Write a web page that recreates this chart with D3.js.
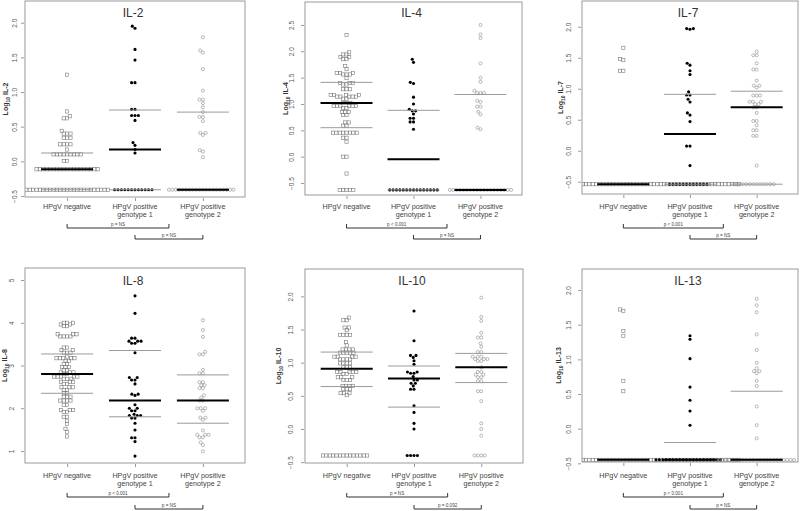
<!DOCTYPE html>
<html><head><meta charset="utf-8">
<script src="https://cdn.jsdelivr.net/npm/d3@7"></script>
<style>body{margin:0;background:#fff}svg{display:block}</style>
</head><body>
<svg id="chart" width="800" height="511"></svg>
<script>
// ---------- DATA (value, number of subjects at that value) ----------
const groupNames = ["HPgV negative", "HPgV positive genotype 1", "HPgV positive genotype 2"];
const groupLabelLines = [["HPgV negative"], ["HPgV positive", "genotype 1"], ["HPgV positive", "genotype 2"]];
const panelTitles = ["IL-2", "IL-4", "IL-7", "IL-8", "IL-10", "IL-13"];

// IL-2
const il2Negative = [[1.25,1],[0.72,1],[0.65,1],[0.62,2],[0.44,1],[0.40,3],[0.34,3],[0.245,4],[0.17,1],[0.10,9],[0.005,2],[-0.115,19],[-0.41,26]];
const il2Genotype1 = [[1.95,1],[1.92,1],[1.615,1],[1.46,1],[1.135,2],[0.75,2],[0.66,3],[0.59,1],[0.27,1],[0.23,1],[0.17,1],[0.12,1],[-0.41,12]];
const il2Genotype2 = [[1.79,1],[1.60,1],[1.57,1],[1.33,1],[1.02,1],[0.89,2],[0.84,1],[0.78,1],[0.71,1],[0.64,2],[0.58,1],[0.41,2],[0.38,1],[0.16,1],[0.14,1],[0.06,1],[-0.41,20]];
const il2Q1 = [-0.41, -0.41, -0.41];
const il2Median = [-0.115, 0.17, -0.41];
const il2Q3 = [0.12, 0.74, 0.71];
const il2Ticks = [-0.5, 0, 0.5, 1, 1.5, 2];
const il2P = ["p = NS", "p = NS"];

// IL-4
const il4Negative = [[2.31,1],[1.98,1],[1.94,2],[1.89,2],[1.85,2],[1.72,1],[1.66,1],[1.59,3],[1.56,3],[1.49,1],[1.40,3],[1.37,2],[1.28,3],[1.17,4],[1.14,5],[1.10,2],[1.02,3],[0.96,6],[0.92,2],[0.85,3],[0.79,2],[0.65,2],[0.59,2],[0.456,8],[0.36,2],[0.285,1],[0.0,2],[-0.32,1],[-0.63,5]];
const il4Genotype1 = [[1.85,1],[1.79,1],[1.41,1],[1.39,1],[1.13,1],[1.0,1],[0.90,1],[0.87,2],[0.81,1],[0.73,2],[0.66,2],[0.52,1],[-0.63,15]];
const il4Genotype2 = [[2.50,1],[2.32,1],[2.25,1],[1.77,1],[1.50,1],[1.42,1],[1.25,1],[1.21,3],[1.06,1],[1.04,1],[0.95,2],[0.85,1],[0.80,1],[0.55,1],[0.52,1],[-0.63,19]];
const il4Q1 = [0.55, -0.63, -0.63];
const il4Median = [1.02, -0.05, -0.63];
const il4Q3 = [1.41, 0.88, 1.18];
const il4Ticks = [-0.5, 0, 0.5, 1, 1.5, 2, 2.5];
const il4P = ["p < 0.001", "p = NS"];

// IL-7
const il7Negative = [[1.66,1],[1.48,1],[1.46,1],[1.29,2],[-0.54,70]];
const il7Genotype1 = [[1.97,2],[1.96,1],[1.41,1],[1.38,1],[1.29,1],[1.23,1],[0.95,1],[0.90,2],[0.83,1],[0.785,1],[0.61,1],[0.575,1],[0.47,1],[0.075,2],[-0.24,1],[-0.54,12]];
const il7Genotype2 = [[1.60,1],[1.54,2],[1.41,1],[1.31,2],[1.13,1],[1.05,2],[1.02,1],[0.89,3],[0.79,3],[0.75,2],[0.70,2],[0.61,1],[0.48,2],[0.41,1],[0.33,2],[0.24,2],[-0.24,1],[-0.54,12]];
const il7Q1 = [-0.54, -0.54, -0.54];
const il7Median = [-0.54, 0.27, 0.70];
const il7Q3 = [-0.54, 0.91, 0.96];
const il7Ticks = [-0.5, 0, 0.5, 1, 1.5, 2];
const il7P = ["p < 0.001", "p = NS"];

// IL-8
const il8Negative = [[4.0,3],[3.96,2],[3.92,2],[3.73,3],[3.68,4],[3.42,2],[3.36,2],[3.30,3],[3.21,1],[3.17,5],[3.11,2],[3.04,2],[2.96,3],[2.89,2],[2.84,3],[2.80,2],[2.74,5],[2.69,3],[2.62,3],[2.57,2],[2.49,3],[2.43,2],[2.35,2],[2.27,3],[2.18,4],[2.08,2],[1.96,3],[1.91,2],[1.80,2],[1.71,1],[1.63,1],[1.52,1],[1.45,1],[1.34,1]];
const il8Genotype1 = [[4.63,1],[4.22,1],[3.64,2],[3.57,3],[3.52,2],[3.30,1],[2.72,2],[2.66,2],[2.57,1],[2.33,2],[2.30,1],[2.08,1],[2.0,2],[1.94,2],[1.86,1],[1.83,3],[1.77,2],[1.65,1],[1.49,1],[1.31,2],[1.22,1],[0.88,1]];
const il8Genotype2 = [[4.06,1],[3.83,1],[3.67,1],[3.32,1],[3.26,2],[2.90,1],[2.82,2],[2.61,2],[2.54,2],[2.47,2],[2.30,1],[2.25,1],[2.18,2],[2.0,3],[1.94,1],[1.78,2],[1.73,1],[1.48,1],[1.38,3],[1.32,2],[1.20,1],[1.14,1],[0.99,1]];
const il8Q1 = [2.35, 1.80, 1.65];
const il8Median = [2.80, 2.18, 2.18];
const il8Q3 = [3.27, 3.35, 2.78];
const il8Ticks = [1, 2, 3, 4, 5];
const il8P = ["p < 0.001", "p = NS"];

// IL-10
const il10Negative = [[1.68,1],[1.64,2],[1.53,2],[1.49,1],[1.42,4],[1.31,1],[1.26,1],[1.20,4],[1.15,5],[1.09,4],[1.05,4],[0.99,4],[0.93,3],[0.86,5],[0.83,2],[0.78,3],[0.74,3],[0.65,4],[0.60,3],[0.54,3],[0.51,1],[-0.40,14]];
const il10Genotype1 = [[1.78,1],[1.33,1],[1.11,2],[1.08,1],[1.03,1],[0.975,1],[0.86,2],[0.84,2],[0.79,1],[0.74,2],[0.69,2],[0.65,1],[0.60,2],[0.35,1],[0.25,1],[0.085,1],[0.0,1],[-0.40,4]];
const il10Genotype2 = [[1.98,1],[1.69,1],[1.63,1],[1.45,1],[1.38,2],[1.29,1],[1.24,1],[1.16,2],[1.09,3],[1.055,3],[1.025,2],[0.93,1],[0.86,2],[0.82,2],[0.78,2],[0.72,2],[0.57,2],[0.42,1],[0.085,1],[0.0,1],[-0.10,1],[-0.40,4]];
const il10Q1 = [0.64, 0.33, 0.70];
const il10Median = [0.91, 0.76, 0.93];
const il10Q3 = [1.16, 0.95, 1.14];
const il10Ticks = [-0.5, 0, 0.5, 1, 1.5, 2];
const il10P = ["p = NS", "p = 0.092"];

// IL-13
const il13Negative = [[1.72,1],[1.70,1],[1.41,1],[1.34,1],[0.69,1],[0.54,1],[-0.45,70]];
const il13Genotype1 = [[1.34,1],[1.29,1],[1.01,1],[0.60,1],[0.41,1],[0.255,1],[0.05,1],[-0.45,20]];
const il13Genotype2 = [[1.875,1],[1.78,1],[1.68,1],[1.36,1],[1.135,1],[0.95,1],[0.87,1],[0.83,2],[0.80,1],[0.69,1],[0.615,1],[0.32,1],[0.05,1],[-0.14,1],[-0.45,24]];
const il13Q1 = [-0.45, -0.45, -0.45];
const il13Median = [-0.45, -0.45, -0.45];
const il13Q3 = [-0.45, -0.20, 0.54];
const il13Ticks = [-0.5, 0, 0.5, 1, 1.5, 2];
const il13P = ["p < 0.001", "p = NS"];

// ---------- LAYOUT ----------
const panels = [
  {title: panelTitles[0], groups: [il2Negative, il2Genotype1, il2Genotype2], q1: il2Q1, med: il2Median, q3: il2Q3, ticks: il2Ticks, p: il2P,
   box: [25, 1, 245, 197], dom: [-0.515, 2.313], tickX: 17, labX: 6, titleY: 17, xlabY: 209, brY: [228, 239], fmt: ".1f"},
  {title: panelTitles[1], groups: [il4Negative, il4Genotype1, il4Genotype2], q1: il4Q1, med: il4Median, q3: il4Q3, ticks: il4Ticks, p: il4P,
   box: [305, 2, 522, 195], dom: [-0.727, 2.935], tickX: 294, labX: 286, titleY: 17, xlabY: 209, brY: [228, 239], fmt: ".1f"},
  {title: panelTitles[2], groups: [il7Negative, il7Genotype1, il7Genotype2], q1: il7Q1, med: il7Median, q3: il7Q3, ticks: il7Ticks, p: il7P,
   box: [582, 1, 798, 194], dom: [-0.698, 2.415], tickX: 571, labX: 561, titleY: 17, xlabY: 209, brY: [228, 239], fmt: ".1f"},
  {title: panelTitles[3], groups: [il8Negative, il8Genotype1, il8Genotype2], q1: il8Q1, med: il8Median, q3: il8Q3, ticks: il8Ticks, p: il8P,
   box: [25, 268, 245, 463], dom: [0.719, 5.281], tickX: 14, labX: 5, titleY: 285, xlabY: 478, brY: [497, 509], fmt: "d"},
  {title: panelTitles[4], groups: [il10Negative, il10Genotype1, il10Genotype2], q1: il10Q1, med: il10Median, q3: il10Q3, ticks: il10Ticks, p: il10P,
   box: [305, 269, 523, 463], dom: [-0.513, 2.413], tickX: 293, labX: 279, titleY: 285, xlabY: 478, brY: [497, 509], fmt: ".1f"},
  {title: panelTitles[5], groups: [il13Negative, il13Genotype1, il13Genotype2], q1: il13Q1, med: il13Median, q3: il13Q3, ticks: il13Ticks, p: il13P,
   box: [582, 269, 798, 462], dom: [-0.481, 2.304], tickX: 571, labX: 559, titleY: 285, xlabY: 478, brY: [497, 509], fmt: ".1f"}
];

const svg = d3.select("#chart");
const FONT = "'Liberation Sans', Arial, sans-serif";
const D = 3.4;       // swarm spacing
const HALF = 26;     // half width of summary lines

function swarm(pys) {
  const placed = [];
  for (const y of pys) {
    const cands = [0];
    for (const p of placed) {
      const dy = Math.abs(p.y - y);
      if (dy < D) { const dx = Math.sqrt(D * D - dy * dy); cands.push(p.x + dx, p.x - dx); }
    }
    cands.sort((a, b) => Math.abs(a) - Math.abs(b) || a - b);
    let best = 0;
    for (const c of cands) {
      if (placed.every(p => (p.x - c) ** 2 + (p.y - y) ** 2 >= D * D - 1e-6)) { best = c; break; }
    }
    placed.push({x: best, y});
  }
  return placed;
}

panels.forEach((P, pi) => {
  const [x0, y0, x1, y1] = P.box;
  const g = svg.append("g");
  const x = d3.scalePoint().domain(groupNames).range([x0, x1]).padding(0.62);
  const y = d3.scaleLinear().domain(P.dom).range([y1, y0]);
  const clipId = "clip" + pi;
  svg.append("clipPath").attr("id", clipId).append("rect")
    .attr("x", x0).attr("y", y0).attr("width", x1 - x0).attr("height", y1 - y0);

  // y axis (ticks + rotated labels)
  const yAxis = d3.axisLeft(y).tickValues(P.ticks).tickSize(3).tickFormat(d3.format(P.fmt));
  const ya = g.append("g").attr("transform", `translate(${x0 - 1},0)`).call(yAxis);
  ya.select(".domain").remove();
  ya.selectAll(".tick line").attr("stroke", "#999");
  ya.selectAll(".tick text").attr("x", null).attr("dy", null)
    .attr("transform", d => `translate(${P.tickX - x0 + 1},${y(d) - y(d)}) rotate(-90)`)
    .attr("text-anchor", "middle").attr("fill", "#555")
    .style("font", `6.5px ${FONT}`);
  // x axis ticks
  const xa = g.append("g").attr("transform", `translate(0,${y1 + 1})`)
    .call(d3.axisBottom(x).tickSize(3).tickFormat(""));
  xa.select(".domain").remove();
  xa.selectAll(".tick line").attr("stroke", "#999");

  // points
  const pg = g.append("g").attr("clip-path", `url(#${clipId})`);
  P.groups.forEach((grp, gi) => {
    const vals = [];
    grp.forEach(([v, n]) => { for (let k = 0; k < n; k++) vals.push(v); });
    vals.sort((a, b) => a - b);
    const pts = swarm(vals.map(v => y(v)));
    const cx = x(groupNames[gi]);
    if (gi === 0) {
      pg.selectAll(null).data(pts).enter().append("rect")
        .attr("x", d => cx + d.x - 1.6).attr("y", d => d.y - 1.6)
        .attr("width", 3.2).attr("height", 3.2)
        .attr("fill", "none").attr("stroke", "#7a7a7a").attr("stroke-width", 0.6);
    } else if (gi === 1) {
      pg.selectAll(null).data(pts).enter().append("circle")
        .attr("cx", d => cx + d.x).attr("cy", d => d.y).attr("r", 1.55)
        .attr("fill", "#000");
    } else {
      pg.selectAll(null).data(pts).enter().append("circle")
        .attr("cx", d => cx + d.x).attr("cy", d => d.y).attr("r", 1.55)
        .attr("fill", "none").attr("stroke", "#8c8c8c").attr("stroke-width", 0.6);
    }
  });

  // summary lines
  groupNames.forEach((gn, gi) => {
    const cx = x(gn);
    [P.q1[gi], P.q3[gi]].forEach(v => {
      pg.append("line").attr("x1", cx - HALF).attr("x2", cx + HALF)
        .attr("y1", y(v)).attr("y2", y(v)).attr("stroke", "#9a9a9a").attr("stroke-width", 1);
    });
    pg.append("line").attr("x1", cx - HALF).attr("x2", cx + HALF)
      .attr("y1", y(P.med[gi])).attr("y2", y(P.med[gi])).attr("stroke", "#000").attr("stroke-width", 2);
  });

  // box
  g.append("rect").attr("x", x0).attr("y", y0).attr("width", x1 - x0).attr("height", y1 - y0)
    .attr("fill", "none").attr("stroke", "#9a9a9a").attr("stroke-width", 1);

  // title
  g.append("text").attr("x", (x0 + x1) / 2 - 2).attr("y", P.titleY)
    .attr("text-anchor", "middle").attr("fill", "#333").style("font", `12px ${FONT}`).text(P.title);

  // y label
  const yl = g.append("text").attr("transform", `translate(${P.labX},${(y0 + y1) / 2}) rotate(-90)`)
    .attr("text-anchor", "middle").attr("dy", "0.35em").attr("fill", "#333")
    .style("font", `bold 7px ${FONT}`);
  yl.append("tspan").text("Log");
  yl.append("tspan").attr("font-size", "5px").attr("dy", "1.5").text("10");
  yl.append("tspan").attr("dy", "-1.5").text(" " + P.title);

  // x labels
  groupNames.forEach((gn, gi) => {
    groupLabelLines[gi].forEach((ln, li) => {
      g.append("text").attr("x", x(gn)).attr("y", P.xlabY + li * 7.5)
        .attr("text-anchor", "middle").attr("fill", "#444").style("font", `7.2px ${FONT}`).text(ln);
    });
  });

  // brackets
  const step = x.step();
  const br = [[x(groupNames[0]), x(groupNames[1]) + step / 2], [x(groupNames[1]), x(groupNames[2])]];
  br.forEach(([xa1, xb1], bi) => {
    const by = P.brY[bi];
    g.append("path").attr("d", `M${xa1},${by - 4}V${by}H${xb1}V${by - 4}`)
      .attr("fill", "none").attr("stroke", "#333").attr("stroke-width", 1);
    g.append("text").attr("x", (xa1 + xb1) / 2).attr("y", by - 1.8)
      .attr("text-anchor", "middle").attr("fill", "#444").style("font", `4.6px ${FONT}`).text(P.p[bi]);
  });
});
</script>
</body></html>
